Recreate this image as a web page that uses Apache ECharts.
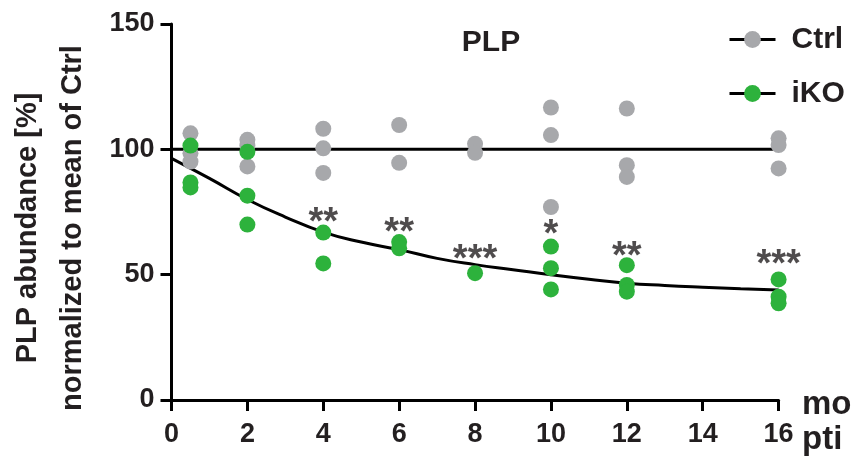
<!DOCTYPE html>
<html>
<head>
<meta charset="utf-8">
<script src="https://cdn.jsdelivr.net/npm/echarts@6/dist/echarts.min.js"></script>
<style>html,body{margin:0;padding:0;background:#fff;}#c{width:854px;height:456px;}</style>
</head>
<body>
<div id="c"></div>
<script>
// ---- data ----
var timepoints = [0.5, 2, 4, 6, 8, 10, 12, 16];
var ctrlValues = [
  [106.4, 98.4, 95.1],
  [103.8, 101.5, 93.2],
  [108.2, 100.4, 90.6],
  [109.7, 94.6],
  [102.2, 98.6],
  [116.7, 105.7, 77.0],
  [116.3, 93.7, 89.0],
  [104.4, 101.7, 92.4]
];
var ikoValues = [
  [101.5, 86.8, 84.8],
  [99.0, 81.5, 70.0],
  [66.8, 54.5],
  [63.0, 60.5],
  [50.6],
  [61.2, 52.6, 44.1],
  [53.8, 45.9, 43.2],
  [48.1, 41.2, 38.6]
];
var ctrlLineX = [0, 16];
var ctrlLineY = [100, 100];
var fitX = [0, 1, 2, 3, 4, 5, 6, 7, 8, 9, 10, 11, 12, 13, 14, 15, 16];
var fitY = [96.4, 88.4, 80.0, 73.0, 67.0, 63.0, 60.0, 56.5, 54.0, 52.0, 50.0, 48.2, 46.6, 45.7, 45.0, 44.4, 43.9];
var sigX = [4, 6, 8, 10, 12, 16];
var sigY = [73.1, 69.1, 58.6, 68.6, 59.8, 56.6];
var sigLabels = ['**', '**', '***', '*', '**', '***'];
var xTicks = [0, 2, 4, 6, 8, 10, 12, 14, 16];
var yTicks = [0, 50, 100, 150];

function pairs(xs, ys) { return xs.map(function (x, i) { return [x, ys[i]]; }); }
function groupPairs(xs, groups) {
  var out = [];
  xs.forEach(function (x, i) { groups[i].forEach(function (v) { out.push([x, v]); }); });
  return out;
}

var GRAY = '#a7a8ab';
var GREEN = '#2db23c';
var INK = '#231f20';
var FONT = 'Liberation Sans, Arial, sans-serif';

var chart = echarts.init(document.getElementById('c'), null, { renderer: 'canvas' });
chart.setOption({
  animation: false,
  backgroundColor: '#fff',
  textStyle: { fontFamily: FONT },
  title: {
    text: 'PLP', left: 486, top: 23, textAlign: 'center',
    textStyle: { fontFamily: FONT, fontSize: 30, fontWeight: 'bold', color: INK }
  },
  legend: {
    data: ['Ctrl', 'iKO'], orient: 'vertical', left: 728, top: 24.5, padding: 0,
    itemWidth: 46, itemHeight: 21, itemGap: 24,
    lineStyle: { width: 3 },
    textStyle: { fontFamily: FONT, fontSize: 30, fontWeight: 'bold', color: INK, padding: [0, 0, 0, 11] }
  },
  grid: { left: 171.5, right: 75.4, top: 24, bottom: 56, containLabel: false },
  xAxis: {
    type: 'value', min: 0, max: 16, interval: 2,
    axisLine: { lineStyle: { color: '#000', width: 3 } },
    axisTick: { show: true, length: 11, lineStyle: { color: '#000', width: 3 } },
    axisLabel: { margin: 21, fontFamily: FONT, fontSize: 27, fontWeight: 'bold', color: INK,
      formatter: function (v) { return xTicks.indexOf(v) >= 0 ? String(v) : ''; } },
    splitLine: { show: false }
  },
  yAxis: {
    type: 'value', min: 0, max: 150, interval: 50,
    axisLine: { show: true, lineStyle: { color: '#000', width: 3 } },
    axisTick: { show: true, length: 11, lineStyle: { color: '#000', width: 3 } },
    axisLabel: { margin: 17, fontFamily: FONT, fontSize: 27, fontWeight: 'bold', color: INK,
      formatter: function (v) { return yTicks.indexOf(v) >= 0 ? String(v) : ''; } },
    splitLine: { show: false }
  },
  graphic: [
    {
      type: 'text', x: 50, y: 228, rotation: Math.PI / 2,
      style: {
        text: 'PLP abundance [%]\nnormalized to mean of Ctrl',
        fontFamily: FONT, fontSize: 29, fontWeight: 'bold', fill: INK,
        align: 'center', verticalAlign: 'middle', lineHeight: 45
      }
    },
    {
      type: 'text', left: 802, top: 388,
      style: { text: 'mo', fontFamily: FONT, fontSize: 33, fontWeight: 'bold', fill: INK }
    },
    {
      type: 'text', left: 802, top: 423,
      style: { text: 'pti', fontFamily: FONT, fontSize: 33, fontWeight: 'bold', fill: INK }
    }
  ],
  series: [
    {
      name: 'Ctrl', type: 'line', data: pairs(ctrlLineX, ctrlLineY),
      showSymbol: false, symbol: 'circle', symbolSize: 16,
      itemStyle: { color: GRAY },
      lineStyle: { color: '#000', width: 3 }, z: 2, silent: true
    },
    {
      name: 'iKO', type: 'line', data: pairs(fitX, fitY), smooth: true,
      showSymbol: false, symbol: 'circle', symbolSize: 16,
      itemStyle: { color: GREEN },
      lineStyle: { color: '#000', width: 3 }, z: 2, silent: true
    },
    {
      name: 'Ctrl points', type: 'scatter', data: groupPairs(timepoints, ctrlValues),
      symbol: 'circle', symbolSize: 16, itemStyle: { color: GRAY, opacity: 1 }, z: 3
    },
    {
      name: 'iKO points', type: 'scatter', data: groupPairs(timepoints, ikoValues),
      symbol: 'circle', symbolSize: 16, itemStyle: { color: GREEN, opacity: 1 }, z: 4
    },
    {
      name: 'sig', type: 'scatter', data: pairs(sigX, sigY), symbolSize: 0, z: 5,
      itemStyle: { color: INK },
      label: {
        show: true, position: 'inside', offset: [0, 7],
        formatter: function (p) { return sigLabels[p.dataIndex]; },
        fontFamily: FONT, fontSize: 38, fontWeight: 'bold', color: INK,
        textBorderWidth: 0, textBorderColor: 'transparent'
      }
    }
  ]
});
</script>
</body>
</html>
